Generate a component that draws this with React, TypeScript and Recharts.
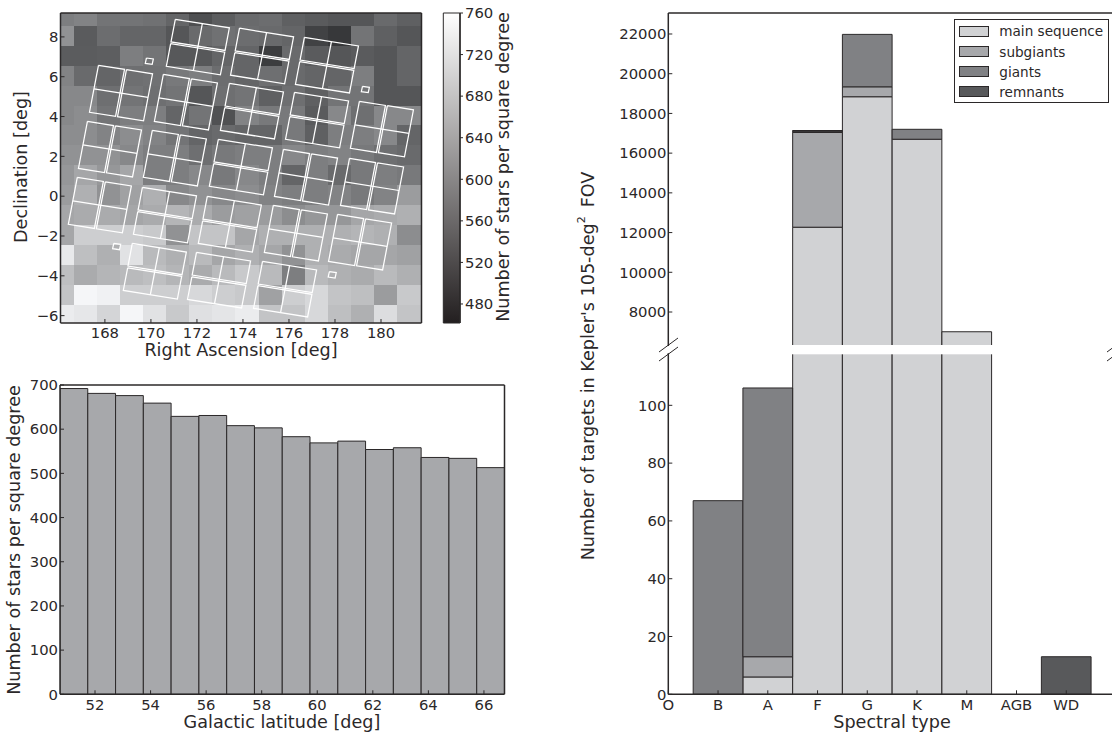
import React from 'react';
import {
  Bar, BarChart, Legend, ReferenceArea, Scatter, ScatterChart, XAxis, YAxis,
} from 'recharts';

const FONT = '"DejaVu Sans", sans-serif';
const INK = '#2b2829';
const W = 1112;
const H = 735;

// star density map, cells in RA / Dec degrees
const raEdges = [166.07, 166.65, 167.65, 168.65, 169.65, 170.66, 171.66, 172.67, 173.67, 174.68, 175.68, 176.69, 177.69, 178.7, 179.7, 180.71, 181.76];
const decEdges = [9.2, 8.55, 7.55, 6.55, 5.55, 4.55, 3.55, 2.55, 1.55, 0.55, -0.45, -1.45, -2.45, -3.45, -4.45, -5.45, -6.37];
const starDensity = [
  [584, 591, 570, 570, 566, 550, 520, 539, 557, 561, 543, 536, 530, 530, 557, 543],
  [611, 536, 561, 550, 550, 530, 557, 566, 561, 557, 550, 502, 489, 570, 543, 530],
  [537, 538, 540, 584, 570, 532, 532, 550, 550, 496, 557, 536, 530, 536, 530, 550],
  [591, 557, 550, 563, 566, 577, 584, 561, 550, 563, 557, 550, 550, 584, 530, 550],
  [597, 597, 563, 570, 563, 570, 530, 563, 570, 543, 563, 543, 570, 570, 530, 530],
  [597, 604, 570, 584, 584, 550, 570, 523, 591, 577, 577, 536, 597, 563, 597, 597],
  [604, 604, 591, 604, 591, 570, 550, 557, 550, 550, 577, 543, 584, 584, 597, 550],
  [611, 611, 611, 597, 584, 584, 563, 577, 584, 584, 597, 584, 591, 577, 563, 557],
  [618, 638, 618, 638, 584, 584, 597, 577, 597, 584, 550, 584, 557, 577, 584, 577],
  [624, 652, 611, 631, 652, 597, 611, 597, 604, 591, 584, 584, 591, 577, 591, 624],
  [638, 645, 645, 638, 645, 658, 645, 624, 631, 624, 604, 618, 618, 638, 645, 652],
  [638, 692, 692, 692, 685, 611, 679, 679, 638, 652, 652, 652, 652, 658, 652, 604],
  [729, 672, 652, 719, 665, 652, 665, 638, 652, 638, 611, 652, 645, 638, 638, 631],
  [672, 645, 658, 665, 672, 658, 645, 665, 685, 665, 584, 665, 652, 645, 665, 652],
  [679, 747, 740, 692, 692, 692, 706, 692, 685, 631, 692, 706, 679, 672, 624, 685],
  [733, 726, 702, 747, 719, 685, 716, 724, 733, 679, 679, 706, 672, 652, 713, 679],
];
const raTicks = [168, 170, 172, 174, 176, 178, 180];
const decTicks = [-6, -4, -2, 0, 2, 4, 6, 8];
const colorTicks = [480, 520, 560, 600, 640, 680, 720, 760];

// CCD module centres [RA, Dec], V = gap runs up/down, H = gap runs across
const moduleCentres: [number, number, 'V' | 'H'][] = [
  [172.04, 7.49, 'H'], [174.83, 7.04, 'H'], [177.65, 6.58, 'H'],
  [168.7, 5.18, 'V'], [171.52, 4.72, 'V'], [174.39, 4.27, 'H'], [177.22, 3.82, 'H'], [180.04, 3.37, 'V'],
  [168.22, 2.36, 'V'], [171.04, 1.91, 'V'], [173.91, 1.46, 'H'], [176.74, 0.95, 'V'], [179.61, 0.5, 'V'],
  [167.78, -0.45, 'V'], [170.61, -0.95, 'H'], [173.43, -1.41, 'H'], [176.3, -1.86, 'V'], [179.09, -2.31, 'V'],
  [170.17, -3.77, 'H'], [172.96, -4.22, 'H'], [175.83, -4.67, 'H'],
];
const fgsCentres: [number, number][] = [[169.93, 6.78], [179.32, 5.36], [168.51, -2.53], [177.88, -3.95]];

// galactic latitude histogram
const latitudeCentres = [51.24, 52.24, 53.24, 54.24, 55.24, 56.24, 57.24, 58.24, 59.24, 60.24, 61.24, 62.24, 63.24, 64.24, 65.24, 66.24];
const starsPerDegree = [692, 681, 676, 659, 629, 631, 608, 603, 583, 569, 573, 554, 558, 536, 534, 513];
const latTicks = [52, 54, 56, 58, 60, 62, 64, 66];
const countTicks = [0, 100, 200, 300, 400, 500, 600, 700];

// spectral type counts
const spectralTypes = ['O', 'B', 'A', 'F', 'G', 'K', 'M', 'AGB', 'WD'];
const mainSequence = [0, 0, 6, 12270, 18840, 16700, 7005, 0, 0];
const subgiants = [0, 0, 7, 4770, 500, 0, 0, 0, 0];
const giants = [0, 67, 93, 70, 2640, 500, 0, 0, 0];
const remnants = [0, 0, 0, 30, 0, 0, 0, 0, 13];
const upperTicks = [8000, 10000, 12000, 14000, 16000, 18000, 20000, 22000];
const lowerTicks = [0, 20, 40, 60, 80, 100];
const typeTicks = [0, 1, 2, 3, 4, 5, 6, 7, 8];

const spectralData = spectralTypes.map((type, i) => ({
  pos: i, type, main: mainSequence[i], sub: subgiants[i], giant: giants[i], remnant: remnants[i],
}));
const latitudeData = latitudeCentres.map((lat, i) => ({ lat, stars: starsPerDegree[i] }));

const grayOf = (v: number) => {
  const g = Math.round(35 + (220 * (v - 461.7)) / (760 - 461.7));
  return `rgb(${g},${Math.min(g + 1, 255)},${Math.min(g + 3, 255)})`;
};

// outlines of a module in sky coordinates
const U: [number, number] = [2.35, -0.43];
const V: [number, number] = [-0.39, -2.36];
const at = (c: number[], a: number, b: number, u = U, v = V) => ({
  x: c[0] + a * u[0] + b * v[0],
  y: c[1] + a * u[1] + b * v[1],
});
const box = (c: number[], a0: number, a1: number, b0: number, b1: number, u = U, v = V) => [
  at(c, a0, b0, u, v), at(c, a1, b0, u, v), at(c, a1, b1, u, v), at(c, a0, b1, u, v), at(c, a0, b0, u, v),
];
const GAP = 0.018;
const modulePaths = moduleCentres.flatMap(([ra, dec, kind]) => {
  const c = [ra, dec];
  return kind === 'V'
    ? [
        box(c, -0.5, -GAP, -0.5, 0.5),
        box(c, GAP, 0.5, -0.5, 0.5),
        [at(c, -0.5, 0), at(c, 0.5, 0)],
      ]
    : [
        box(c, -0.5, 0.5, -0.5, -GAP),
        box(c, -0.5, 0.5, GAP, 0.5),
        [at(c, 0, -0.5), at(c, 0, 0.5)],
      ];
});
const fgsPaths = fgsCentres.map(([ra, dec]) =>
  box([ra, dec], -0.5, 0.5, -0.5, 0.5, [0.3, -0.05], [-0.05, -0.27]));

const tickStyle = { fontSize: 14.8, fill: INK, fontFamily: FONT };
const lineStyle = { stroke: INK, strokeWidth: 1.5 };
const tickLine = { stroke: INK, strokeWidth: 1 };
const chartStyle: React.CSSProperties = { position: 'absolute', left: 0, top: 0 };

const title = (x: number, y: number, text: React.ReactNode, rotate = false) => () => (
  <text
    x={x}
    y={y}
    textAnchor="middle"
    dominantBaseline="middle"
    fontSize={17.6}
    fontFamily={FONT}
    fill={INK}
    transform={rotate ? `rotate(-90 ${x} ${y})` : undefined}
  >
    {text}
  </text>
);

const NoDot = () => <g />;

const SpectralLegend = ({ payload }: any) => (
  <div style={{ background: '#fff', border: `1px solid ${INK}`, boxSizing: 'border-box', width: 155, height: 84, padding: '1px 0 0 4px' }}>
    {(payload || []).map((entry: any) => (
      <div key={entry.value} style={{ display: 'flex', alignItems: 'center', height: 20.2, fontFamily: FONT, fontSize: 13.6, color: INK, whiteSpace: 'nowrap' }}>
        <span style={{ width: 28, height: 9, background: entry.color, border: `1px solid ${INK}`, marginRight: 10 }} />
        {entry.value}
      </div>
    ))}
  </div>
);

// just under one axis unit wide, recharts shrinks bars that fill the whole band
const spectralBars = [
  <Bar key="main" dataKey="main" name="main sequence" stackId="s" fill="#d1d2d4" stroke={INK} barSize={49.7} isAnimationActive={false} />,
  <Bar key="sub" dataKey="sub" name="subgiants" stackId="s" fill="#a7a8ab" stroke={INK} barSize={49.7} isAnimationActive={false} />,
  <Bar key="giant" dataKey="giant" name="giants" stackId="s" fill="#808184" stroke={INK} barSize={49.7} isAnimationActive={false} />,
  <Bar key="remnant" dataKey="remnant" name="remnants" stackId="s" fill="#58595b" stroke={INK} barSize={49.7} isAnimationActive={false} />,
];

export default function App() {
  const cells = starDensity.flatMap((row, r) =>
    row.map((v, c) => (
      <ReferenceArea
        key={`${r}-${c}`}
        x1={raEdges[c]}
        x2={raEdges[c + 1]}
        y1={decEdges[r + 1]}
        y2={decEdges[r]}
        fill={grayOf(v)}
        fillOpacity={1}
        stroke="none"
        shapeRendering="crispEdges"
        ifOverflow="hidden"
      />
    )),
  );

  return (
    <div style={{ position: 'fixed', left: 0, top: 0, width: W, height: H, overflow: 'hidden', background: '#fff' }}>
      {/* sky map */}
      <ScatterChart width={W} height={H} style={chartStyle} margin={{ top: 13, left: 0.5, right: 690.5, bottom: 382 }}>
        {cells}
        {[...modulePaths, ...fgsPaths].map((path, i) => (
          <Scatter key={i} data={path} line={{ stroke: '#fff', strokeWidth: 1.25 }} shape={NoDot} isAnimationActive={false} />
        ))}
        <XAxis
          type="number" dataKey="x" domain={[166.07, 181.76]} ticks={raTicks} allowDataOverflow interval={0}
          height={30} tickSize={-4} tickMargin={8} tick={tickStyle} axisLine={lineStyle} tickLine={tickLine}
          label={{ content: title(241, 351, 'Right Ascension [deg]') }}
        />
        <XAxis xAxisId="top" orientation="top" mirror type="number" domain={[166.07, 181.76]} ticks={raTicks} allowDataOverflow interval={0}
          tickSize={4} tick={false} axisLine={lineStyle} tickLine={tickLine} />
        <YAxis
          type="number" dataKey="y" domain={[-6.37, 9.2]} ticks={decTicks} allowDataOverflow interval={0}
          width={60} tickSize={-4} tickMargin={6} tick={tickStyle} axisLine={lineStyle} tickLine={tickLine}
          tickFormatter={(v: number) => String(v).replace('-', '\u2212')}
          label={{ content: title(22, 167, 'Declination [deg]', true) }}
        />
        <YAxis yAxisId="right" orientation="right" mirror type="number" domain={[-6.37, 9.2]} ticks={decTicks} allowDataOverflow interval={0}
          tickSize={4} tick={false} axisLine={lineStyle} tickLine={tickLine} />
      </ScatterChart>

      {/* colour bar */}
      <ScatterChart width={W} height={H} style={chartStyle} margin={{ top: 13, left: 443.3, right: 592, bottom: 412 }}>
        <defs>
          <linearGradient id="cbar" x1="0" y1="0" x2="0" y2="1">
            <stop offset="0%" stopColor="#ffffff" />
            <stop offset="100%" stopColor="#231f20" />
          </linearGradient>
        </defs>
        <Scatter data={[{ x: 0, y: 461.7 }, { x: 1, y: 760 }]} shape={NoDot} isAnimationActive={false} />
        <ReferenceArea x1={0} x2={1} y1={461.7} y2={760} fill="url(#cbar)" fillOpacity={1} stroke={INK} strokeWidth={1} />
        <XAxis type="number" dataKey="x" domain={[0, 1]} hide />
        <YAxis
          type="number" dataKey="y" orientation="right" domain={[461.7, 760]} ticks={colorTicks} allowDataOverflow interval={0}
          width={60} tickSize={3} tickMargin={2} tick={tickStyle} axisLine={lineStyle} tickLine={tickLine}
          label={{ content: title(504, 167, 'Number of stars per square degree', true) }}
        />
      </ScatterChart>

      {/* latitude histogram */}
      <BarChart width={W} height={H} style={chartStyle} data={latitudeData} barCategoryGap={0} barGap={0} margin={{ top: 385, left: 0, right: 607.5, bottom: 10.7 }}>
        <Bar dataKey="stars" fill="#a7a8ab" stroke={INK} strokeWidth={1} barSize={27.75} isAnimationActive={false} />
        <XAxis
          type="number" dataKey="lat" domain={[50.74, 66.74]} ticks={latTicks} allowDataOverflow interval={0}
          height={30} tickSize={-4} tickMargin={9} tick={tickStyle} axisLine={lineStyle} tickLine={tickLine}
          label={{ content: title(282, 723, 'Galactic latitude [deg]') }}
        />
        <XAxis xAxisId="top" orientation="top" mirror type="number" domain={[50.74, 66.74]} ticks={latTicks} allowDataOverflow interval={0}
          tickSize={4} tick={false} axisLine={lineStyle} tickLine={tickLine} />
        <YAxis
          type="number" domain={[0, 700]} ticks={countTicks} allowDataOverflow interval={0}
          width={60} tickSize={-4} tickMargin={6} tick={tickStyle} axisLine={lineStyle} tickLine={tickLine}
          label={{ content: title(15, 540, 'Number of stars per square degree', true) }}
        />
        <YAxis yAxisId="right" orientation="right" mirror type="number" domain={[0, 700]} ticks={countTicks} allowDataOverflow interval={0}
          tickSize={4} tick={false} axisLine={lineStyle} tickLine={tickLine} />
      </BarChart>

      {/* spectral types, upper part of the broken axis */}
      <BarChart width={1125} height={H} style={chartStyle} data={spectralData} barCategoryGap={0} barGap={0} margin={{ top: 13, left: 608.3, right: 9, bottom: 389 }}>
        {spectralBars}
        <XAxis type="number" dataKey="pos" domain={[0, 9]} ticks={typeTicks} allowDataOverflow interval={0} height={0} tick={false} axisLine={false} tickLine={false} />
        <XAxis xAxisId="top" orientation="top" mirror type="number" domain={[0, 9]} ticks={typeTicks} allowDataOverflow interval={0}
          tickSize={4} tick={false} axisLine={lineStyle} tickLine={tickLine} />
        <YAxis
          type="number" domain={[6288, 23057]} ticks={upperTicks} allowDataOverflow interval={0}
          width={60} tickSize={-4} tickMargin={6} tick={tickStyle} axisLine={lineStyle} tickLine={tickLine}
          label={{
            content: title(589, 366, (
              <>
                {"Number of targets in Kepler's 105-deg"}
                <tspan fontSize={11} dy={-7}>2</tspan>
                <tspan dx={9} dy={7}>FOV</tspan>
              </>
            ), true),
          }}
        />
        <Legend
          layout="horizontal" align="center" verticalAlign="middle" itemSorter={null}
          wrapperStyle={{ left: 954.3, top: 19.3, width: 155, height: 84 }}
          content={SpectralLegend}
        />
      </BarChart>

      {/* spectral types, lower part of the broken axis */}
      <BarChart width={1125} height={H} style={chartStyle} data={spectralData} barCategoryGap={0} barGap={0} margin={{ top: 353.3, left: 608.3, right: 9, bottom: 10.7 }}>
        {spectralBars}
        <XAxis
          type="number" dataKey="pos" domain={[0, 9]} ticks={typeTicks} allowDataOverflow interval={0}
          height={30} tickSize={-4} tickMargin={9} tick={tickStyle} axisLine={lineStyle} tickLine={tickLine}
          tickFormatter={(v: number) => spectralTypes[v]}
          label={{ content: title(892, 723, 'Spectral type') }}
        />
        <YAxis
          type="number" domain={[0, 118]} ticks={lowerTicks} allowDataOverflow interval={0}
          width={60} tickSize={-4} tickMargin={6} tick={tickStyle} axisLine={lineStyle} tickLine={tickLine}
        />
      </BarChart>

      {/* axis break: white strip over the clipped bar ends, and the slashes */}
      <svg width={W} height={H} style={chartStyle}>
        <rect x={790} y={345} width={204} height={9.3} fill="#fff" />
        {[0, 9].map((dy) => (
          <g key={dy} stroke={INK} strokeWidth={1}>
            <line x1={659} y1={352 + dy} x2={678} y2={338 + dy} />
            <line x1={1107} y1={352 + dy} x2={1126} y2={338 + dy} />
          </g>
        ))}
      </svg>
    </div>
  );
}
